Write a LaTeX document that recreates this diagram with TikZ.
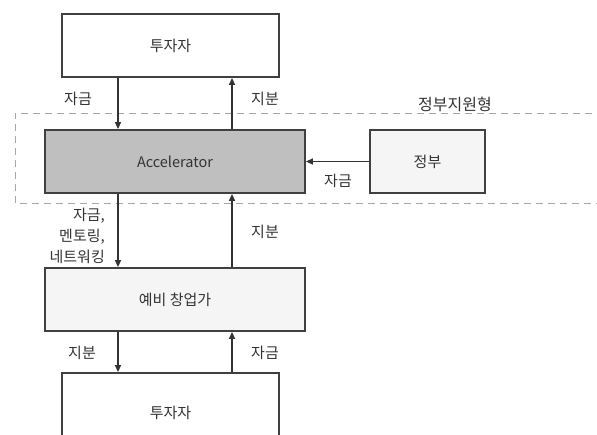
\documentclass[tikz,border=0pt]{standalone}
\usepackage{fontspec}
\setmainfont{Noto Sans CJK KR}
\usetikzlibrary{arrows.meta}
\begin{document}
\begin{tikzpicture}[x=1pt,y=-1pt,
  box/.style={draw=black!75,line width=1.8pt,inner sep=0pt,font=\fontsize{15}{18}\selectfont,text=black!80},
  conn/.style={draw=black!80,line width=1.3pt,-{Triangle[length=7pt,width=6pt]}},
  lbl/.style={font=\fontsize{15}{18}\selectfont,text=black!80,inner sep=1pt},
  frame/.style={draw=black!35,line width=1pt,dash pattern=on 7pt off 5pt}]
\useasboundingbox (0,0) rectangle (597,434);
\begin{scope}
\clip (0,0) rectangle (597,434);
% dashed government-support frame
\draw[frame] (604,113) -- (15,113) -- (15,203) -- (604,203);
\node[lbl,fill=white,inner xsep=4pt,font=\fontsize{16}{18}\selectfont] (gov) at (455,104) {정부지원형};
% boxes
\node[box,minimum width=217pt,minimum height=63pt,fill=white] (inv1) at (170.5,45.5) {투자자};
\node[box,minimum width=260pt,minimum height=63pt,fill=black!25,font=\fontsize{14.5}{18}\selectfont] (acc) at (175,161.5) {Accelerator};
\node[box,minimum width=115pt,minimum height=63pt,fill=black!4] (govt) at (427.5,161.5) {정부};
\node[box,minimum width=260pt,minimum height=63pt,fill=black!4] (pre) at (175,299.5) {예비 창업가};
\node[box,minimum width=217pt,minimum height=80pt,fill=white] (inv2) at (170.5,413) {투자자};
% connectors
\draw[conn] (inv1.south -| 118,0) -- (acc.north -| 118,0);
\draw[conn] (acc.north -| 232,0) -- (inv1.south -| 232,0);
\draw[conn] (govt.west) -- (acc.east);
\draw[conn] (acc.south -| 118,0) -- (pre.north -| 118,0);
\draw[conn] (pre.north -| 232,0) -- (acc.south -| 232,0);
\draw[conn] (pre.south -| 118,0) -- (inv2.north -| 118,0);
\draw[conn] (inv2.north -| 232,0) -- (pre.south -| 232,0);
\end{scope}
% labels
\node[lbl] (l1) at (78,99) {자금};
\node[lbl] (l2) at (265,99) {지분};
\node[lbl] (l3) at (338,181) {자금};
\node[lbl,align=right,anchor=east,font=\fontsize{15}{21}\selectfont] (l4) at (106,236) {자금,\\멘토링,\\네트워킹};
\node[lbl] (l5) at (265,232) {지분};
\node[lbl] (l6) at (82,353) {지분};
\node[lbl] (l7) at (265,353) {자금};
\end{tikzpicture}
\end{document}
